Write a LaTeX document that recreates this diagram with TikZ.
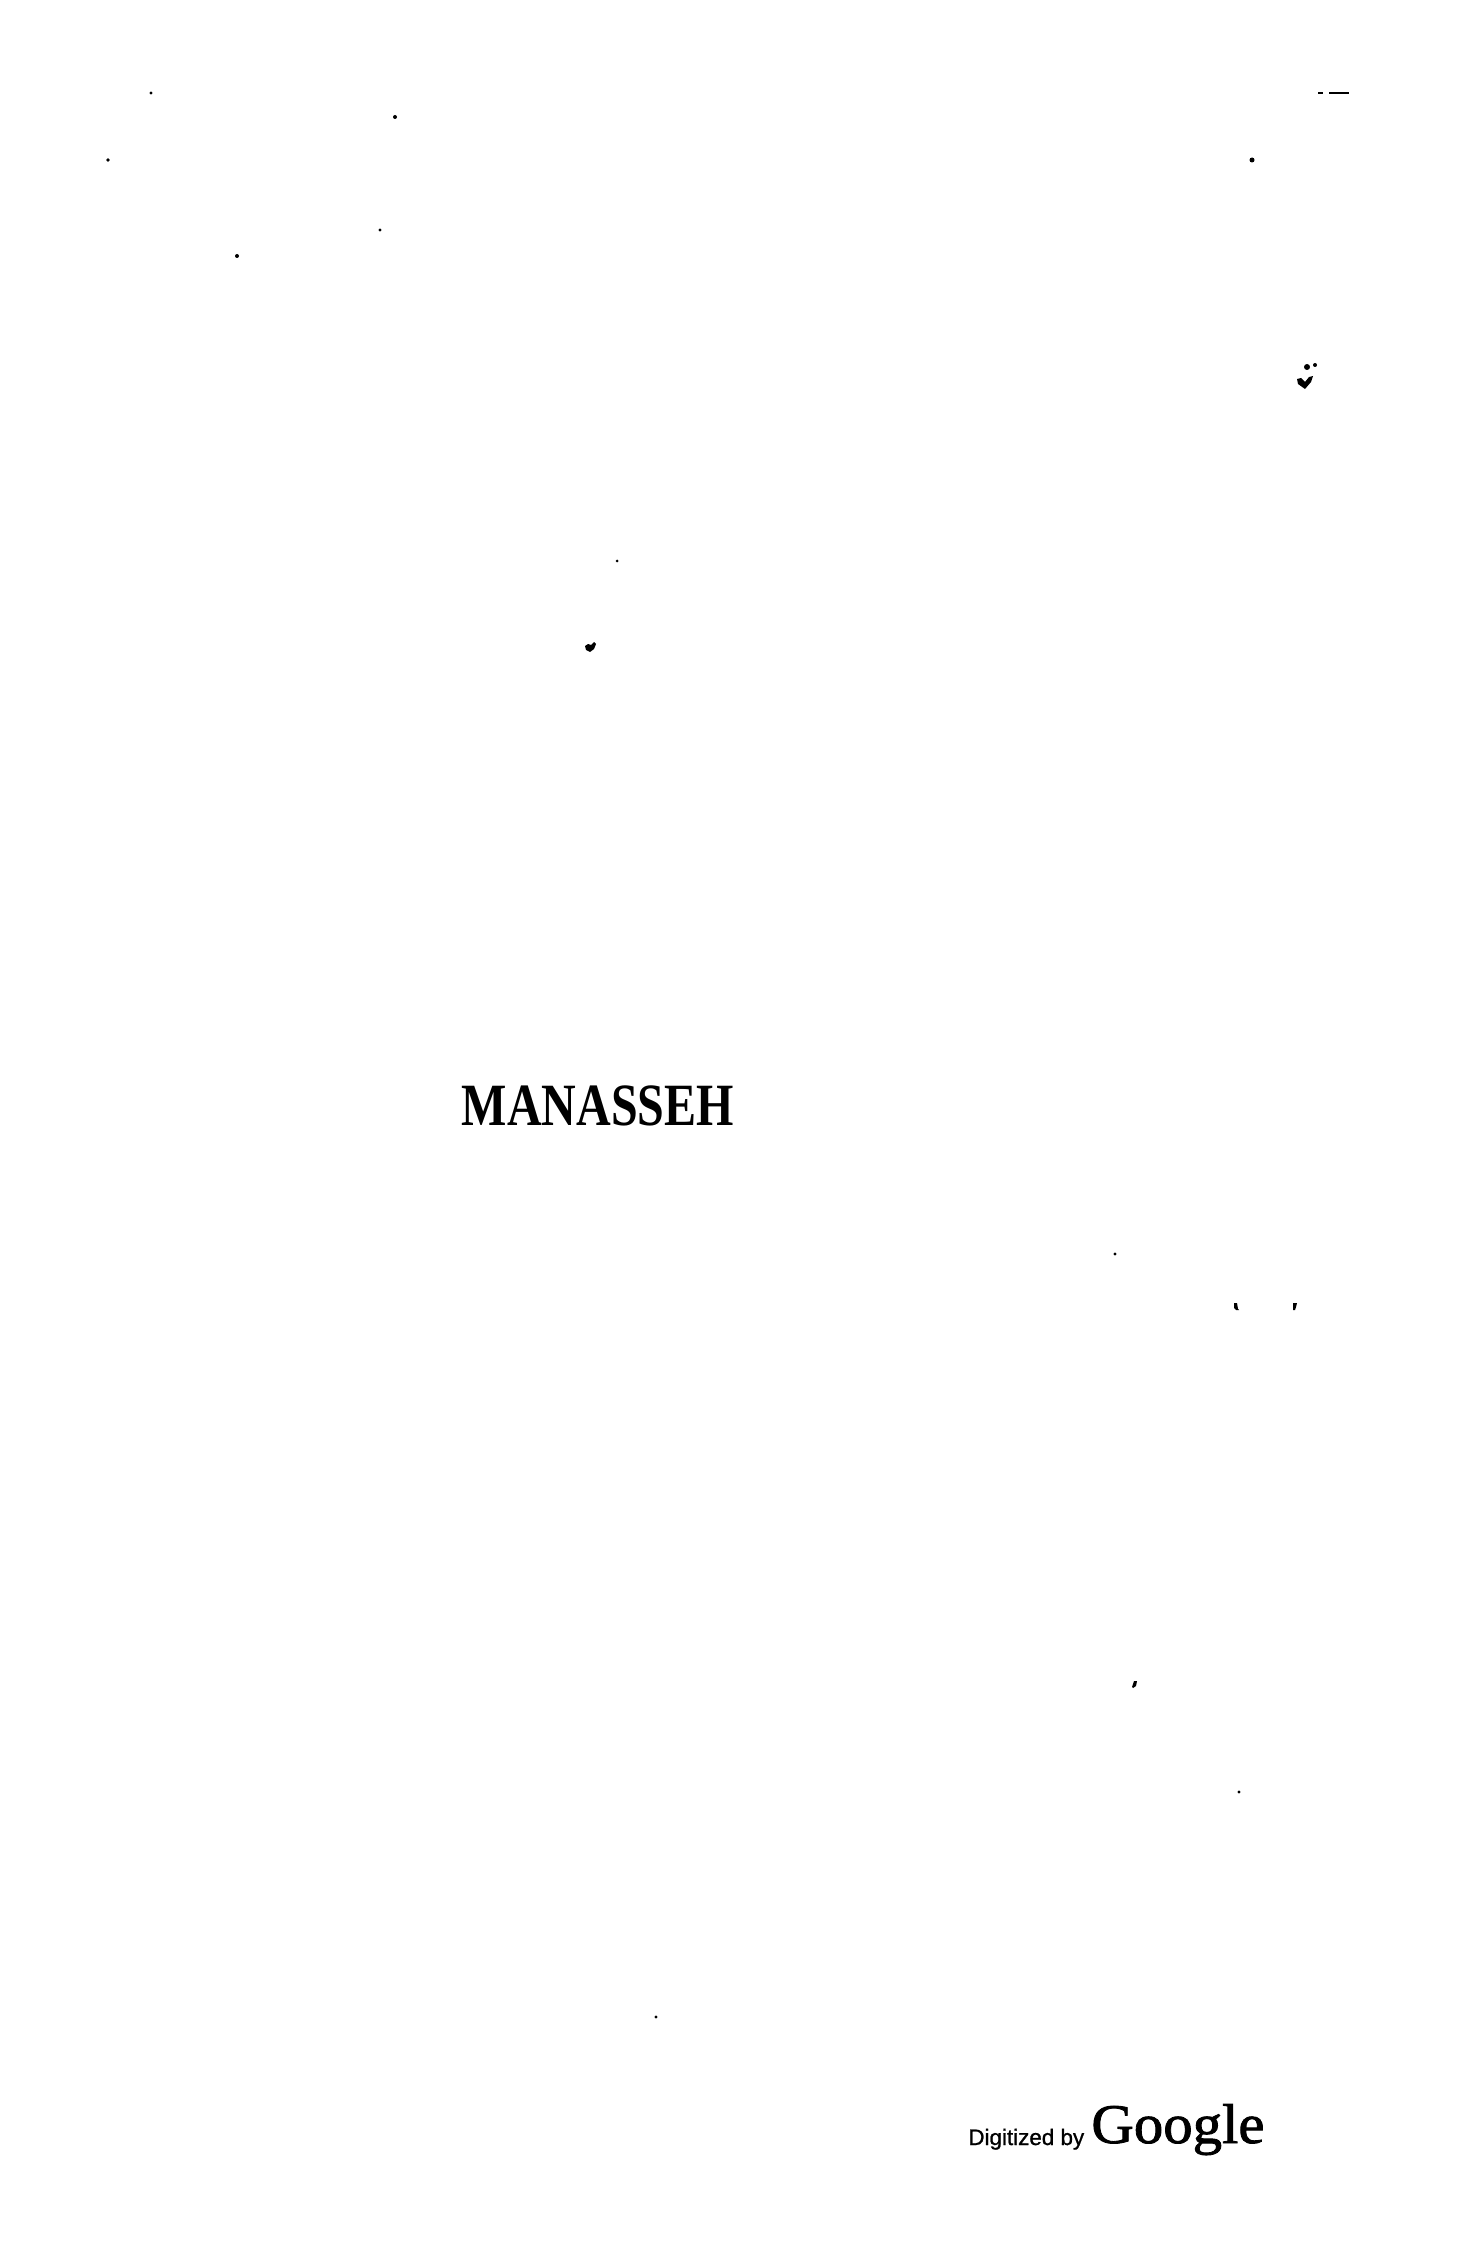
\documentclass[tikz,border=0pt]{standalone}
\usepackage{fontspec}
\setmainfont{Liberation Serif}
\newfontfamily\scansans[FakeBold=1]{Liberation Sans}
\newfontfamily\titlefont[FakeStretch=0.8]{Liberation Serif}
\newfontfamily\stampfont[FakeStretch=1.05,FakeBold=1.5]{Liberation Serif}
\tikzset{
  speck/.style={fill=black,draw=none},
  pagetitle/.style={inner sep=0pt,font=\titlefont\bfseries\fontsize{30}{30}\selectfont},
  stampsmall/.style={inner sep=0pt,anchor=base west,font=\scansans\fontsize{11.2}{11.2}\selectfont},
  stampbig/.style={inner sep=0pt,anchor=base west,font=\stampfont\fontsize{28}{28}\selectfont}
}
\begin{document}
\begin{tikzpicture}[x=0.5pt,y=-0.5pt]
  \useasboundingbox (0,0) rectangle (1467,2262);
  \fill [white] (0,0) rectangle (1467,2262);
  \foreach \px/\py/\pr in {151/93/1.6,395/117/2,108/160/1.8,380/230/1.6,237/256/2,
    1252/160/2.5,617/561/1.5,1115/1254/1.6,1239/1792/1.6,656/2017/1.6,1315/365/2,1307/367/3}
    \fill [speck] (\px,\py) circle [radius=\pr];
  \fill [speck] (1318,92) rectangle (1323,94);
  \fill [speck] (1329,92) rectangle (1349,94);
  \fill [speck] (1297,379) -- (1301,378) -- (1305,382) -- (1309,377) -- (1313,376) -- (1311,382) -- (1305,389) -- (1298,384) -- cycle;
  \fill [speck] (585,646) -- (588,644) -- (591,645) -- (594,642) -- (596,644) -- (594,649) -- (590,652) -- (586,650) -- cycle;
  \fill [speck] (1234,1303) -- (1237,1303) -- (1238,1309) -- (1239,1310) -- (1236,1310) -- (1234,1308) -- cycle;
  \fill [speck] (1293,1303) -- (1297,1303) -- (1296,1307) -- (1295,1310) -- (1293,1310) -- cycle;
  \fill [speck] (1134,1681) -- (1137,1681) -- (1136,1686) -- (1133,1688) -- (1132,1687) -- cycle;
  \node [pagetitle] (title) at (598,1106) {MANASSEH};
  \node [stampsmall] (digitized) at (968,2145) {Digitized by};
  \node [stampbig] (google) at (1091,2143) {Google};
\end{tikzpicture}
\end{document}
